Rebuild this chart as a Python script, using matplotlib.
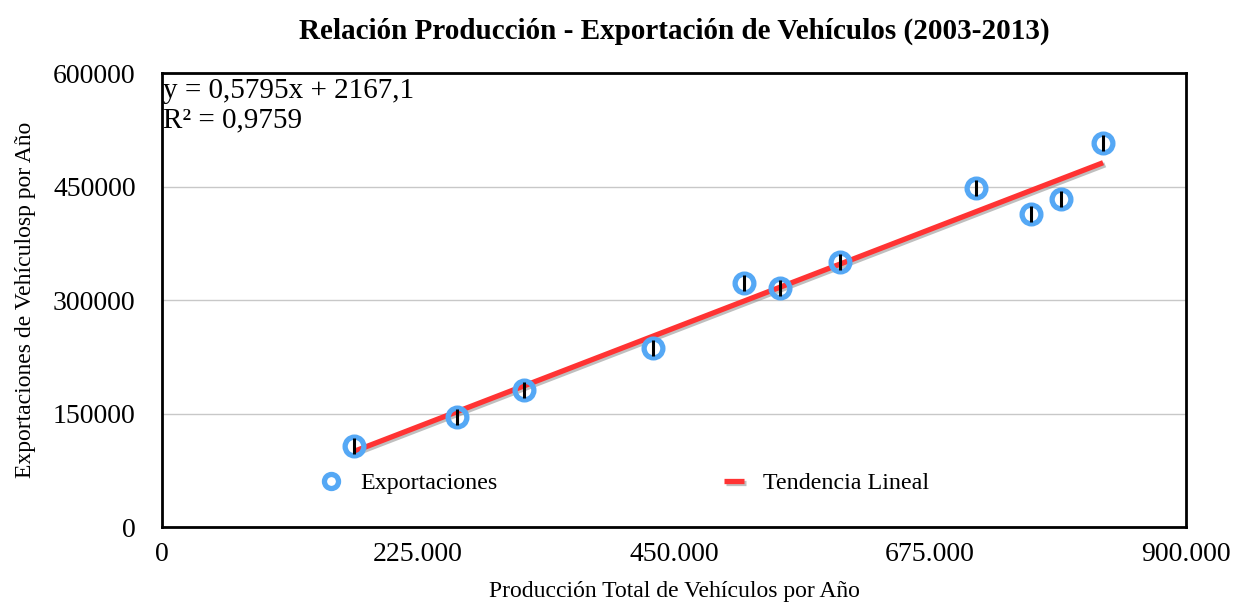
import matplotlib
matplotlib.use("Agg")
import matplotlib.pyplot as plt
import matplotlib.patheffects as pe
from matplotlib.ticker import FuncFormatter, FixedLocator
import numpy as np

plt.rcParams['font.family'] = ['Liberation Serif', 'DejaVu Serif']

produccion = [168750, 259300, 318200, 431600, 511600, 543200, 596000, 715500, 763900, 790200, 827100]
exportaciones = [107000, 145400, 181100, 236600, 322500, 315900, 350200, 448000, 413700, 433500, 507500]
error_y = [10000] * 11
pendiente = 0.5795
intercepto = 2167.1
r2 = 0.9759
x_ticks = [0, 225000, 450000, 675000, 900000]
y_ticks = [0, 150000, 300000, 450000, 600000]

fig = plt.figure(figsize=(12.33, 6.05), dpi=100)
ax = fig.add_axes([0.1314, 0.1289, 0.8305, 0.7504])

ax.set_xlim(0, 900000)
ax.set_ylim(0, 600000)

ax.yaxis.set_major_locator(FixedLocator(y_ticks))
ax.xaxis.set_major_locator(FixedLocator(x_ticks))
ax.grid(axis='y', color='#c8c8c8', linewidth=1)
ax.set_axisbelow(True)

def fmt_x(v, pos):
    return '0' if v == 0 else f"{int(v):,}".replace(',', '.')
ax.xaxis.set_major_formatter(FuncFormatter(fmt_x))
ax.yaxis.set_major_formatter(FuncFormatter(lambda v, p: f"{int(v)}"))
ax.tick_params(length=0, labelsize=20, pad=11)
ax.tick_params(axis='y', pad=19)

xs = np.array([min(produccion), max(produccion)])
ax.plot(xs, pendiente * xs + intercepto, color='#ff3333', linewidth=3.8,
        solid_capstyle='butt', label='Tendencia Lineal', zorder=3,
        path_effects=[pe.SimpleLineShadow(offset=(1.5, -1.5), shadow_color='gray', alpha=0.5), pe.Normal()])

ax.errorbar(produccion, exportaciones, yerr=error_y, fmt='none', ecolor='black',
            elinewidth=2.2, capsize=0, zorder=5)
ax.plot(produccion, exportaciones, linestyle='none', marker='o', markersize=13.5,
        markerfacecolor='none', markeredgecolor='#55a8f5', markeredgewidth=3.8,
        label='Exportaciones', zorder=4)

for s in ax.spines.values():
    s.set_linewidth(2)
    s.set_color('black')

ax.text(0.001, 0.99, f"y = {str(pendiente).replace('.', ',')}x + {str(intercepto).replace('.', ',')}\nR² = {str(r2).replace('.', ',')}",
        transform=ax.transAxes, ha='left', va='top', fontsize=21, linespacing=1.2)

h, l = ax.get_legend_handles_labels()
ax.legend([h[1], h[0]], [l[1], l[0]], loc='lower left', bbox_to_anchor=(0.134, 0.025),
          ncol=2, frameon=False, fontsize=17.3, columnspacing=9.4, handlelength=0.85,
          handletextpad=0.8, markerscale=0.75)

ax.set_title("Relación Producción - Exportación de Vehículos (2003-2013)", fontsize=21,
             fontweight='bold', pad=25)
ax.set_xlabel("Producción Total de Vehículos por Año", fontsize=17, labelpad=10)
ax.set_ylabel("Exportaciones de Vehículosp por Año", fontsize=17, labelpad=12)

fig.savefig("out.png", dpi=100)
